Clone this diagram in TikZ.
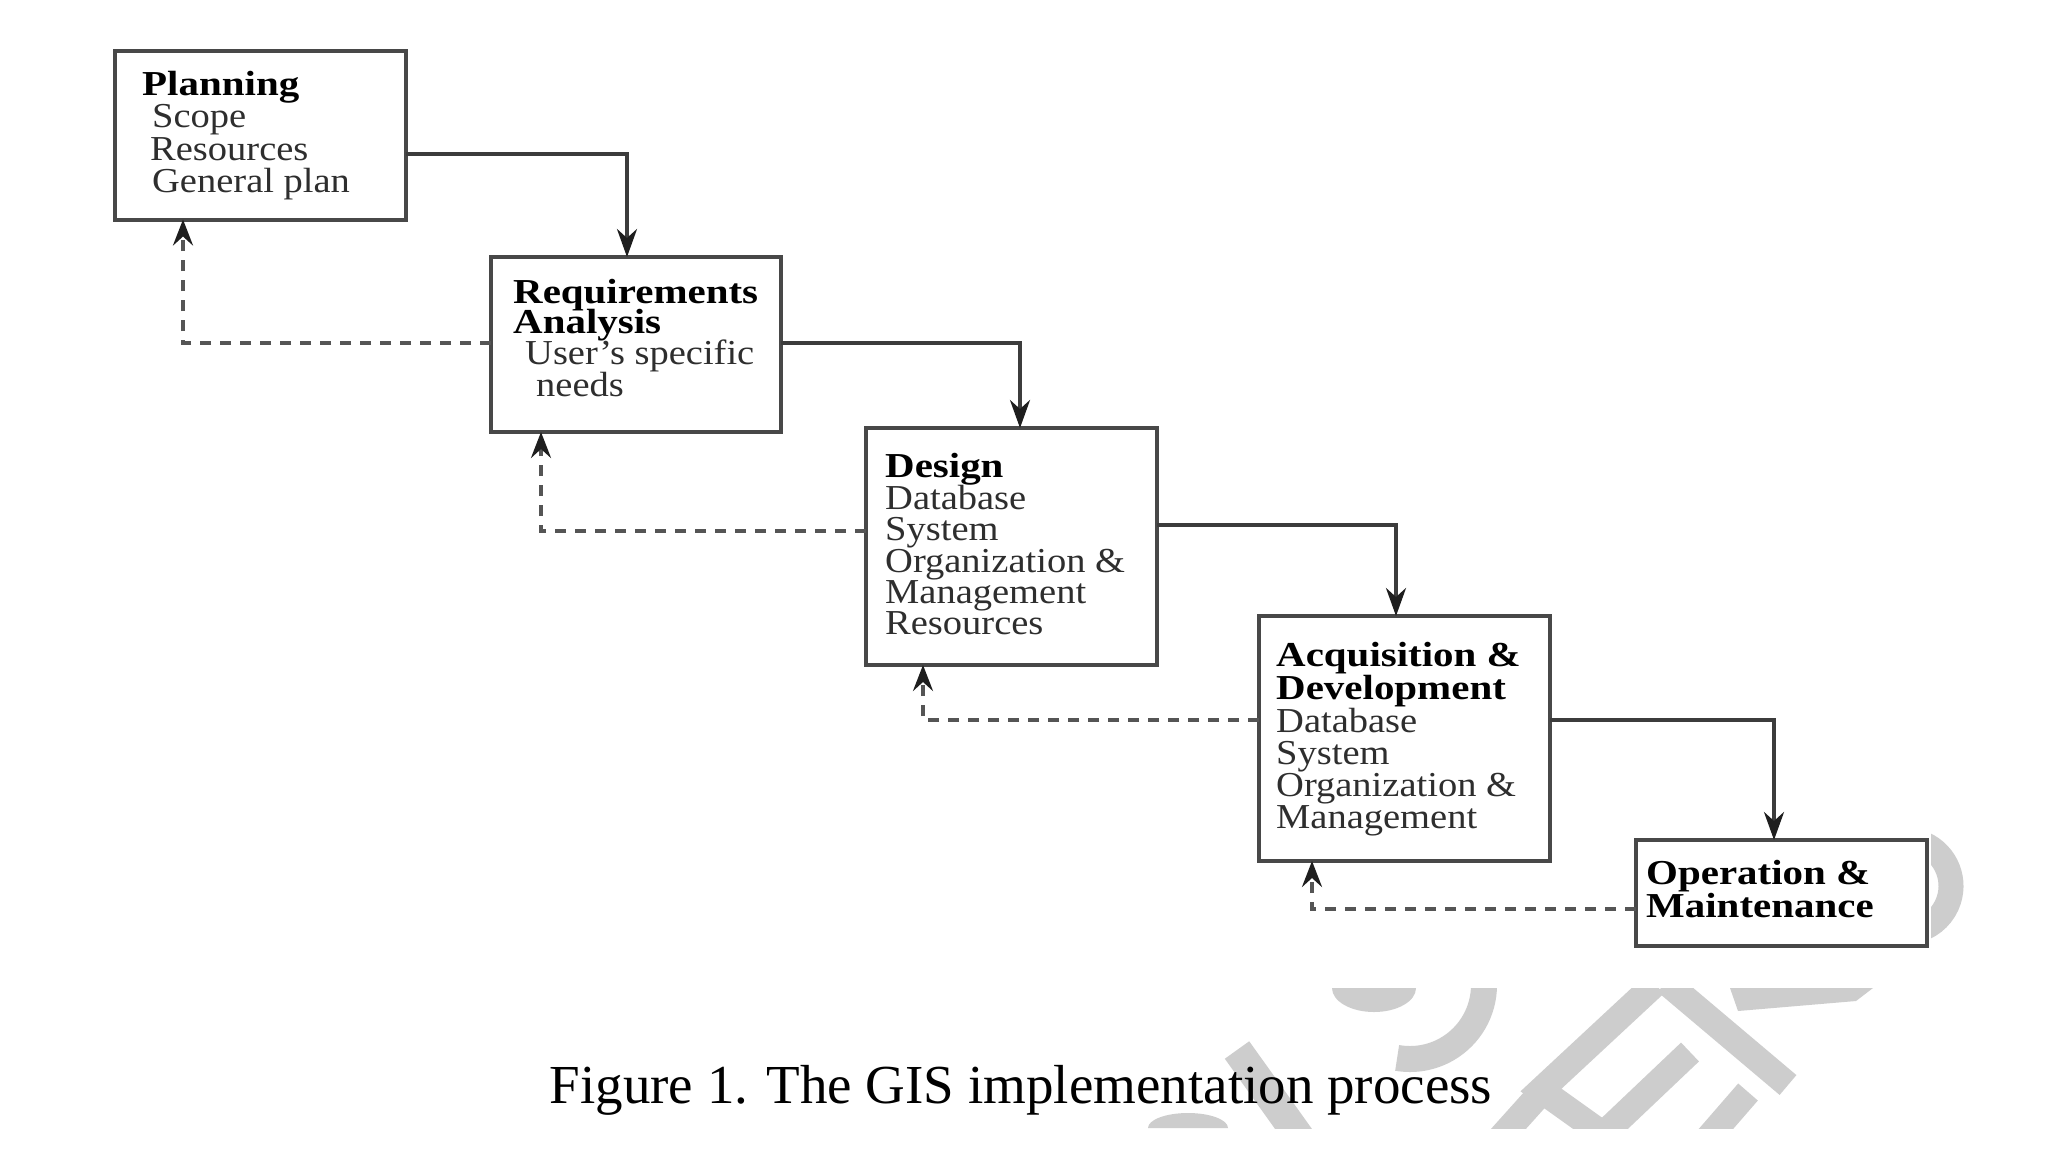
\documentclass[tikz,border=0pt]{standalone}
\usepackage{fontspec}
\setmainfont{Liberation Serif}
\newfontfamily\boxrm{Liberation Serif}[FakeStretch=1.1]
\newfontfamily\boxbf{Liberation Serif}[FakeStretch=1.17]
\newfontfamily\capfont{Liberation Serif}
\usetikzlibrary{arrows.meta}
\definecolor{boxc}{HTML}{484848}
\definecolor{linec}{HTML}{3C3C3C}
\definecolor{dashc}{HTML}{555555}
\definecolor{tipc}{HTML}{1E1E1E}
\definecolor{txtc}{HTML}{2E2E2E}
\definecolor{wmc}{HTML}{CDCDCD}
\tikzset{
  stagebox/.style={draw=boxc, line width=4pt, fill=white, inner sep=0pt, outer sep=0pt},
  flow/.style={draw=linec, line width=3.5pt, -{Stealth[length=28pt,width=20pt,inset=9pt,color=tipc]}},
  back/.style={draw=dashc, line width=3.5pt, dash pattern=on 11pt off 9pt, -{Stealth[length=26pt,width=20pt,inset=9pt,color=tipc]}},
  ttl/.style={anchor=base west, inner sep=0pt, text=black, font=\boxbf\bfseries\fontsize{35}{32}\selectfont},
  sub/.style={anchor=base west, inner sep=0pt, text=txtc, font=\boxrm\fontsize{35}{32}\selectfont},
  wm/.style={draw=wmc, line width=26pt},
}
\begin{document}
\begin{tikzpicture}[x=1pt,y=-1pt]
\useasboundingbox[fill=white] (0,0) rectangle (2048,1152);

% watermark remnants
\begin{scope}
  \clip (1100,988) rectangle (2048,1128);
  \draw[wm] (1484,985) arc[start angle=0, end angle=100, radius=74];
  \fill[wmc] (1332,988) arc[start angle=180, end angle=0, x radius=42, y radius=24] -- cycle;
  \draw[wm, line width=30pt] (1237,1050) -- (1305,1145);
  \fill[wmc] (1148,1128) arc[start angle=180, end angle=360, x radius=40, y radius=15] -- cycle;
  \draw[wm, miter limit=10] (1655,984) -- (1541,1090) -- (1618,1145);
  \draw[wm] (1690,1052) -- (1592,1145);
  \draw[wm] (1538,1096) -- (1494,1145);
  \draw[wm] (1666,982) -- (1788,1085);
  \fill[wmc] (1730,988) -- (1873,988) -- (1856,1001) -- (1738,1011) -- cycle;
  \draw[wm] (1748,1092) -- (1702,1145);
\end{scope}
\begin{scope}
  \clip (1931,825) rectangle (2000,960);
  \draw[wm, line width=25pt] (1905,886) ++(-72:46) arc[start angle=-72, end angle=72, radius=46];
\end{scope}

% stage boxes
\node[stagebox, minimum width=291pt, minimum height=169pt] (plan) at (260,135) {};
\node[stagebox, minimum width=290pt, minimum height=175pt] (req)  at (636,344.5) {};
\node[stagebox, minimum width=291pt, minimum height=237pt] (des)  at (1011.5,546.5) {};
\node[stagebox, minimum width=291pt, minimum height=245pt] (acq)  at (1404.5,738.5) {};
\node[stagebox, minimum width=291pt, minimum height=106pt] (op)   at (1781.5,893) {};

% texts
\node[ttl] (p1) at (142,95) {Planning};
\node[sub] (p2) at (152,127.5) {Scope};
\node[sub] (p3) at (150,160) {Resources};
\node[sub] (p4) at (152,192) {General plan};

\node[ttl] (r1) at (513,303) {Requirements};
\node[ttl] (r2) at (513,333) {Analysis};
\node[sub] (r3) at (525,364) {User’s specific};
\node[sub] (r4) at (536,396) {needs};

\node[ttl] (d1) at (885,477) {Design};
\node[sub] (d2) at (885,509) {Database};
\node[sub] (d3) at (885,540) {System};
\node[sub] (d4) at (885,572) {Organization \&};
\node[sub] (d5) at (885,603) {Management};
\node[sub] (d6) at (885,634) {Resources};

\node[ttl] (a1) at (1276,666) {Acquisition \&};
\node[ttl] (a2) at (1276,699) {Development};
\node[sub] (a3) at (1276,732) {Database};
\node[sub] (a4) at (1276,764) {System};
\node[sub] (a5) at (1276,796) {Organization \&};
\node[sub] (a6) at (1276,828) {Management};

\node[ttl] (o1) at (1646,884) {Operation \&};
\node[ttl] (o2) at (1646,917) {Maintenance};

% forward connectors
\coordinate (k1) at (627,154);
\coordinate (k2) at (1020,343);
\coordinate (k3) at (1396,525);
\coordinate (k4) at (1774,720);
\draw[flow] (plan.east |- k1) -| (req.north -| k1);
\draw[flow] (req.east |- k2) -| (des.north -| k2);
\draw[flow] (des.east |- k3) -| (acq.north -| k3);
\draw[flow] (acq.east |- k4) -| (op.north -| k4);

% feedback connectors
\coordinate (b1) at (183,343);
\coordinate (b2) at (541,531);
\coordinate (b3) at (923,720);
\coordinate (b4) at (1312,909);
\draw[back] (req.west |- b1) -| (plan.south -| b1);
\draw[back] (des.west |- b2) -| (req.south -| b2);
\draw[back] (acq.west |- b3) -| (des.south -| b3);
\draw[back] (op.west |- b4) -| (acq.south -| b4);

% caption
\node[anchor=base, inner sep=0pt, font=\capfont\fontsize{55}{60}\selectfont] (cap) at (1021,1103) {Figure 1. The GIS implementation process};
\end{tikzpicture}
\end{document}
